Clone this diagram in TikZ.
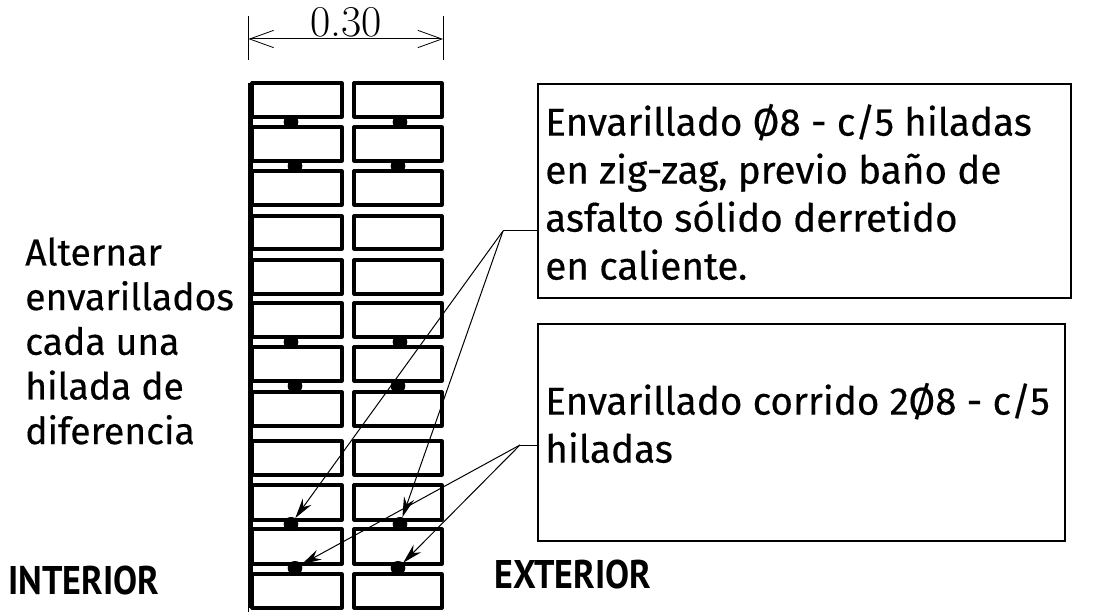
\documentclass[tikz,border=0pt]{standalone}
\usepackage{fontspec}
\setmainfont{Fira Sans}[FakeBold=0.35]
\newfontfamily\labelfont{PT Sans}[FakeStretch=0.9]
\usetikzlibrary{arrows.meta,shapes.geometric}
\tikzset{
  x=0.75pt,y=-0.75pt,
  brick/.style={draw=black,line width=2.4pt,line join=round,inner sep=0pt,outer sep=0pt,anchor=north west},
  bar/.style={ellipse,fill=black,inner sep=0pt,minimum width=11pt,minimum height=10.5pt},
  callout/.style={draw=black,line width=1.5pt,inner sep=0pt,anchor=north west},
  note/.style={align=left,anchor=west,inner sep=0pt,font=\fontsize{29}{36}\selectfont},
  leader/.style={line width=0.75pt},
  tipped/.style={leader,-{Stealth[length=15pt,width=8pt]}},
  dimline/.style={line width=0.75pt},
  dimtip/.style={dimline,{Straight Barb[length=18pt,width=13pt,line width=0.6pt]}-{Straight Barb[length=18pt,width=13pt,line width=0.6pt]}},
  sidelabel/.style={font=\labelfont\bfseries\fontsize{30}{32}\selectfont,inner sep=0pt,anchor=base west}
}
\begin{document}
\begin{tikzpicture}
\useasboundingbox (0,0) rectangle (1118,613);
% wall edge
\coordinate (wallT) at (248.5,83);
\coordinate (wallB) at (248.5,612);
\draw[line width=0.9pt] (wallT) -- (wallB);
\draw[line width=2.4pt] (251,83) -- (251,608);
% bricks
\foreach \r/\t/\b in {1/83/117,2/127/161,3/171/205,4/216/249,5/260/294,6/303/337,7/347/381,8/392/426,9/441/475,10/485/520,11/529/564,12/574/608}{
  \node[brick,minimum width=67.5pt,minimum height={(\b-\t)*0.75pt}] (L\r) at (252,\t) {};
  \node[brick,minimum width=66pt,minimum height={(\b-\t)*0.75pt}] (R\r) at (354,\t) {};
}
% bars
\foreach \n/\x/\y in {a/291/122,b/400/122,c/295/166,d/398/166,e/291/342,f/400/342,g/295/386,h/398/386,i/291/524,j/400/524,k/295/568,l/398/568}{
  \node[bar] (\n) at (\x,\y) {};
}
% dimension
\coordinate (d1a) at (248.5,16);
\coordinate (d1b) at (248.5,60);
\coordinate (d2a) at (443,16);
\coordinate (d2b) at (443,60);
\coordinate (d1) at (248.5,39);
\coordinate (d2) at (443,39);
\draw[dimline] (d1a) -- (d1b);
\draw[dimline] (d2a) -- (d2b);
\draw[dimtip] (d1) -- (d2);
\node[inner sep=0pt,anchor=base,font=\fontspec{Latin Modern Roman}\fontsize{33}{34}\selectfont] (dim) at (346,37) {0.30};
% callouts
\node[callout,minimum width=399.75pt,minimum height=160.5pt] (box1) at (537,83) {};
\node[callout,minimum width=395.25pt,minimum height=162.75pt] (box2) at (537,323) {};
\node[note] (t1) at (545,192) {Envarillado Ø8 - c/5 hiladas\\en zig-zag, previo baño de\\asfalto sólido derretido\\en caliente.};
\node[note] (t2) at (545,423) {Envarillado corrido 2Ø8 - c/5\\hiladas};
\node[note,font=\fontsize{28}{33.5}\selectfont] (t3) at (25,341) {Alternar\\envarillados\\cada una\\hilada de\\diferencia};
\node[sidelabel] (int) at (8,594) {INTERIOR};
\node[sidelabel] (ext) at (494,588) {EXTERIOR};
% leaders
\coordinate (e1) at (503,231);
\coordinate (e2) at (520,445);
\draw[leader] (box1.west |- e1) -- (e1);
\draw[leader] (box2.west |- e2) -- (e2);
\draw[tipped] (e1) -- (i);
\draw[tipped] (e1) -- (j);
\draw[tipped] (e2) -- (k);
\draw[tipped] (e2) -- (l);
\end{tikzpicture}
\end{document}
